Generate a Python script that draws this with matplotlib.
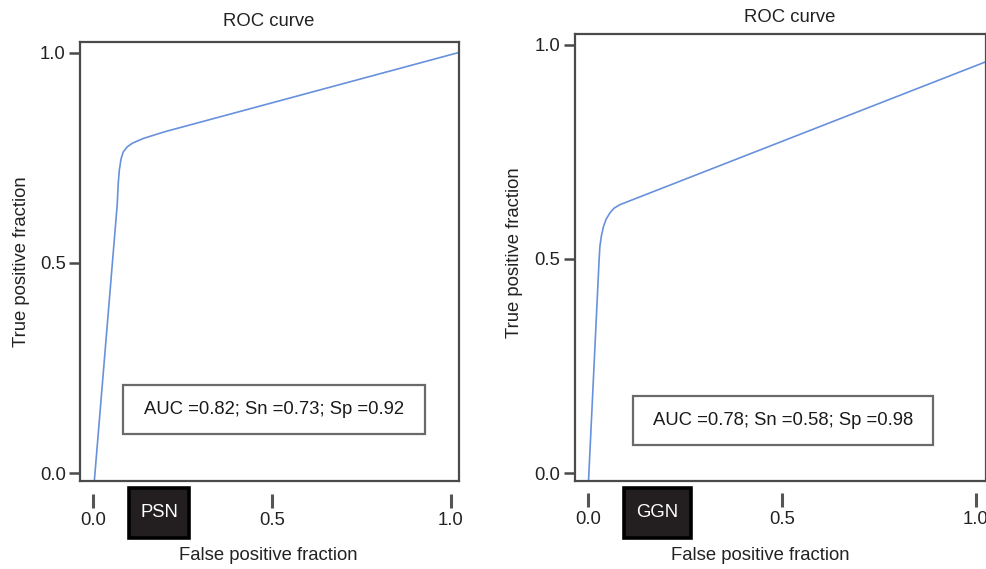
import matplotlib
matplotlib.use('Agg')
import matplotlib.pyplot as plt
from matplotlib.patches import Rectangle

plt.rcParams['font.family'] = ['Liberation Sans', 'DejaVu Sans']

# ROC curve points (FPR, TPR)
fpr_psn = [0.002, 0.067, 0.070, 0.073, 0.078, 0.084, 0.095, 0.110, 0.140, 0.200, 1.020]
tpr_psn = [-0.030, 0.638, 0.690, 0.721, 0.748, 0.764, 0.776, 0.785, 0.796, 0.812, 1.000]
fpr_ggn = [0.001, 0.029, 0.031, 0.035, 0.040, 0.047, 0.057, 0.068, 0.083, 1.030]
tpr_ggn = [-0.030, 0.500, 0.530, 0.555, 0.575, 0.593, 0.608, 0.619, 0.627, 0.962]

groups = ['PSN', 'GGN']
auc = [0.82, 0.78]
sn = [0.73, 0.58]
sp = [0.92, 0.98]
ticks = [0.0, 0.5, 1.0]

W, H = 987, 569
fig = plt.figure(figsize=(W / 100, H / 100), dpi=100)

def fx(x):
    return x / W

def fy(y):
    return 1 - y / H

LINE = '#6891dc'
SPINE = '#4a4a4a'
FS = 13.3

# panel layout in pixels: axes box, limits, annotation box, label box, text spots
panels = [
    dict(box=(80, 42, 458.7, 481), xlim=(-0.037, 1.022), ylim=(-0.019, 1.0255),
         fpr=fpr_psn, tpr=tpr_psn, note=(123, 385, 425, 434),
         tag=(129.3, 488.3, 188.7, 538.3), title=(269, 22), xlab=(268, 555),
         ylab=(-0.132, 0.5), tick_loc=-0.0296),
    dict(box=(574.7, 33.7, 986, 481.3), xlim=(-0.034, 1.026), ylim=(-0.019, 1.026),
         fpr=fpr_ggn, tpr=tpr_ggn, note=(633, 396, 933, 445),
         tag=(624.3, 488.3, 690.7, 538.3), title=(790, 17), xlab=(760, 555),
         ylab=(-0.126, 0.51), tick_loc=-0.027),
]

for i, p in enumerate(panels):
    x0, y0, x1, y1 = p['box']
    ax = fig.add_axes([fx(x0), fy(y1), (x1 - x0) / W, (y1 - y0) / H])
    ax.plot(p['fpr'], p['tpr'], color=LINE, lw=1.2)
    ax.set_xlim(*p['xlim'])
    ax.set_ylim(*p['ylim'])
    for s in ax.spines.values():
        s.set_color(SPINE)
        s.set_linewidth(1.6)

    # y axis attached to the box
    ax.set_yticks(ticks)
    ax.set_yticklabels([f'{t:.1f}' for t in ticks])
    ax.tick_params(axis='y', length=7.7, width=1.8, color=SPINE, pad=2.5,
                   labelsize=FS, labelcolor='#222222')
    ax.set_xticks([])
    ax.set_ylabel('True positive fraction', fontsize=FS, color='#222222')
    ax.yaxis.set_label_coords(*p['ylab'])

    # detached x axis (ticks only)
    sec = ax.secondary_xaxis(p['tick_loc'])
    sec.set_xticks(ticks)
    sec.set_xticklabels([f'{t:.1f}' for t in ticks])
    sec.spines['bottom'].set_visible(False)
    sec.tick_params(axis='x', length=10, width=2.2, color='#555555', pad=3,
                    labelsize=FS, labelcolor='#222222')

    # AUC annotation box
    nx0, ny0, nx1, ny1 = p['note']
    fig.patches.append(Rectangle((fx(nx0), fy(ny1)), (nx1 - nx0) / W, (ny1 - ny0) / H,
                                 transform=fig.transFigure, facecolor='white',
                                 edgecolor='#6a6a6a', lw=1.6, zorder=5))
    fig.text(fx((nx0 + nx1) / 2), fy((ny0 + ny1) / 2),
             f'AUC ={auc[i]:.2f}; Sn ={sn[i]:.2f}; Sp ={sp[i]:.2f}',
             ha='center', va='center', fontsize=FS, color='#1a1a1a', zorder=6)

    # group tag (black box)
    tx0, ty0, tx1, ty1 = p['tag']
    fig.patches.append(Rectangle((fx(tx0), fy(ty1)), (tx1 - tx0) / W, (ty1 - ty0) / H,
                                 transform=fig.transFigure, facecolor='#231f20',
                                 edgecolor='black', lw=2.6, zorder=5))
    fig.text(fx((tx0 + tx1) / 2), fy((ty0 + ty1) / 2 - 1), groups[i],
             ha='center', va='center', fontsize=FS, color='white', zorder=6)

    fig.text(fx(p['title'][0]), fy(p['title'][1]), 'ROC curve',
             ha='center', va='center', fontsize=FS, color='#222222')
    fig.text(fx(p['xlab'][0]), fy(p['xlab'][1]), 'False positive fraction',
             ha='center', va='center', fontsize=FS, color='#222222')

fig.savefig('out.png', dpi=100)
